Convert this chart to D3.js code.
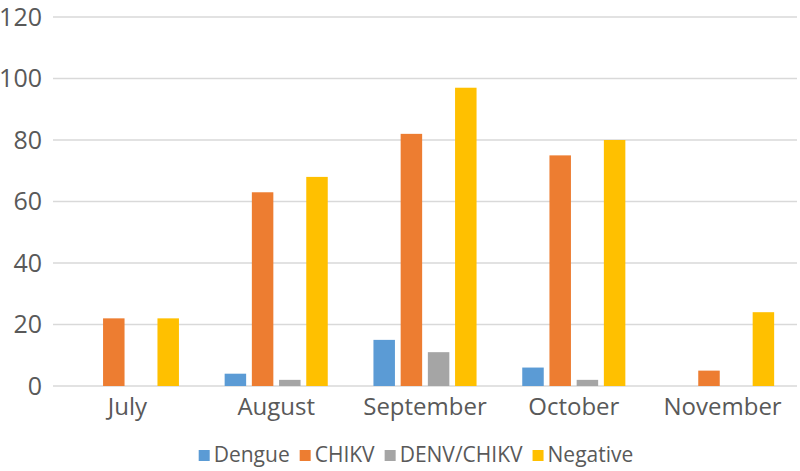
<!DOCTYPE html>
<html>
<head>
<meta charset="utf-8">
<script src="https://cdn.jsdelivr.net/npm/d3@7"></script>
<style>
  body { margin: 0; background: #fff; }
  text { font-family: 'Open Sans', sans-serif; fill: #595959; }
</style>
</head>
<body>
<div id="chart"></div>
<script>
const months = ['July', 'August', 'September', 'October', 'November'];
const seriesNames = ['Dengue', 'CHIKV', 'DENV/CHIKV', 'Negative'];
const dengue = [0, 4, 15, 6, 0];
const chikv = [22, 63, 82, 75, 5];
const denvChikv = [0, 2, 11, 2, 0];
const negative = [22, 68, 97, 80, 24];
const yTicks = [0, 20, 40, 60, 80, 100, 120];
const colors = ['#5b9bd5', '#ed7d31', '#a5a5a5', '#ffc000'];

const seriesValues = [dengue, chikv, denvChikv, negative];

const W = 800, H = 471;
const margin = { top: 17, right: 3, bottom: 85, left: 53 };
const width = W - margin.left - margin.right;
const height = H - margin.top - margin.bottom;

const svg = d3.select('#chart').append('svg')
    .attr('width', W)
    .attr('height', H);

const g = svg.append('g')
    .attr('transform', `translate(${margin.left},${margin.top})`);

const x0 = d3.scaleBand()
    .domain(months)
    .range([0, width]);

const x1 = d3.scaleBand()
    .domain(seriesNames)
    .range([0, x0.bandwidth()])
    .paddingInner(0.21)
    .paddingOuter(0.84);

const y = d3.scaleLinear()
    .domain([0, 120])
    .range([height, 0]);

const color = d3.scaleOrdinal()
    .domain(seriesNames)
    .range(colors);

// gridlines
g.append('g')
  .selectAll('line')
  .data(yTicks)
  .enter().append('line')
    .attr('x1', 0)
    .attr('x2', width)
    .attr('y1', (d) => y(d))
    .attr('y2', (d) => y(d))
    .attr('stroke', '#d9d9d9')
    .attr('stroke-width', 1.3);

// y axis labels
const yAxis = d3.axisLeft(y).tickValues(yTicks).tickSize(0).tickPadding(11);
g.append('g')
    .call(yAxis)
    .call((sel) => sel.select('.domain').remove())
    .selectAll('text')
      .style('font-size', '25px')
      .attr('fill', '#595959');

// x axis labels
const xAxis = d3.axisBottom(x0).tickSize(0).tickPadding(12);
g.append('g')
    .attr('transform', `translate(0,${height})`)
    .call(xAxis)
    .call((sel) => sel.select('.domain').remove())
    .selectAll('text')
      .style('font-size', '24px')
      .attr('fill', '#595959');

// bars
const rows = months.map((m, i) => ({
  month: m,
  values: seriesNames.map((s, j) => ({ name: s, value: seriesValues[j][i] }))
}));

const month = g.selectAll('.month')
    .data(rows)
  .enter().append('g')
    .attr('class', 'month')
    .attr('transform', (d) => `translate(${x0(d.month)},0)`);

month.selectAll('rect')
    .data((d) => d.values.filter((v) => v.value > 0))
  .enter().append('rect')
    .attr('x', (d) => x1(d.name))
    .attr('width', x1.bandwidth())
    .attr('y', (d) => y(d.value))
    .attr('height', (d) => y(0) - y(d.value))
    .attr('fill', (d) => color(d.name));

// legend
const legend = svg.append('g')
    .attr('transform', `translate(0,455)`);

const items = legend.selectAll('.item')
    .data(seriesNames)
  .enter().append('g')
    .attr('class', 'item');

items.append('rect')
    .attr('width', 11)
    .attr('height', 11)
    .attr('y', -5)
    .attr('fill', (d) => color(d));

items.append('text')
    .attr('x', 15)
    .attr('dy', '0.35em')
    .style('font-size', '21px')
    .text((d) => d);

let offset = 0;
const positions = [];
items.each(function () {
  const w = 15 + d3.select(this).select('text').node().getComputedTextLength();
  positions.push(offset);
  offset += w + 10;
});
const startX = 416 - (offset - 10) / 2;
items.attr('transform', (d, i) => `translate(${startX + positions[i]},0)`);
</script>
</body>
</html>
